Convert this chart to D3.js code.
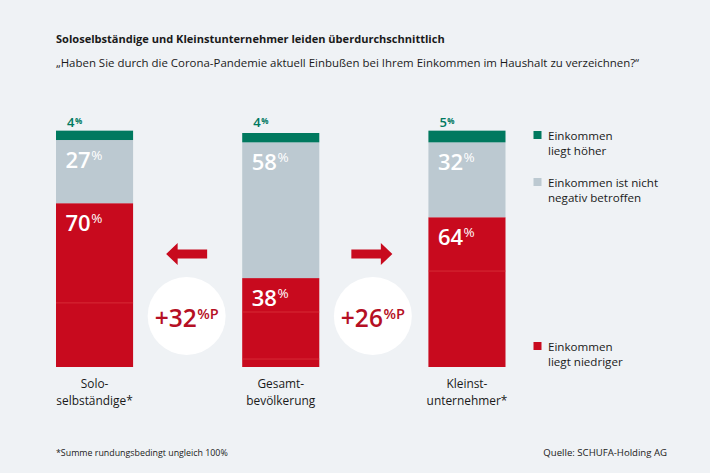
<!DOCTYPE html>
<html>
<head>
<meta charset="utf-8">
<script src="https://cdn.jsdelivr.net/npm/d3@7"></script>
<style>
html, body { margin: 0; padding: 0; background: #eff2f5; }
svg { display: block; }
text { font-family: "Open Sans", sans-serif; fill: #1a1a1a; }
</style>
</head>
<body>
<div id="chart"></div>
<script>
var categories = ["Solo", "Gesamt", "Kleinst"];
var categoryLabels = [
    ["Solo-", "selbständige*"],
    ["Gesamt-", "bevölkerung"],
    ["Kleinst-", "unternehmer*"]
];
var niedriger = [70, 38, 64];
var nichtBetroffen = [27, 58, 32];
var hoeher = [4, 4, 5];
// the thin lighter lines inside the red segments, in percent from the bottom
var dividers = [[27.4], [23.5, 3.4], [41]];
var deltas = ["+32", "+26"];
var legendLabels = [
    ["Einkommen", "liegt höher"],
    ["Einkommen ist nicht", "negativ betroffen"],
    ["Einkommen", "liegt niedriger"]
];

var green = "#00795f", grey = "#bcc9d1", red = "#c80a1e";
var width = 710, height = 473;

var svg = d3.select("#chart").append("svg")
    .attr("width", width)
    .attr("height", height);

svg.append("text").attr("x", 56).attr("y", 43)
    .attr("font-size", 11.05).attr("font-weight", 700)
    .text("Soloselbständige und Kleinstunternehmer leiden überdurchschnittlich");
svg.append("text").attr("x", 56).attr("y", 67)
    .attr("font-size", 11.45)
    .text("„Haben Sie durch die Corona-Pandemie aktuell Einbußen bei Ihrem Einkommen im Haushalt zu verzeichnen?“");

var x = d3.scaleBand().domain(categories).range([56, 505.5]).paddingInner(0.586).paddingOuter(0);
var y = d3.scaleLinear().domain([0, 100]).range([367, 133]);

var rows = categories.map(function(c, i) {
    return { cat: c, niedriger: niedriger[i], nicht: nichtBetroffen[i], hoeher: hoeher[i] };
});
var keys = ["niedriger", "nicht", "hoeher"];
var color = d3.scaleOrdinal().domain(keys).range([red, grey, green]);
var stacked = d3.stack().keys(keys)(rows);

svg.append("g").selectAll("g")
    .data(stacked)
    .join("g")
    .attr("fill", function(d) { return color(d.key); })
    .selectAll("rect")
    .data(function(d) { return d; })
    .join("rect")
    .attr("x", function(d) { return x(d.data.cat); })
    .attr("y", function(d) { return y(d[1]); })
    .attr("width", x.bandwidth())
    .attr("height", function(d) { return y(d[0]) - y(d[1]); });

// thin lines in the red part
categories.forEach(function(c, i) {
    dividers[i].forEach(function(v) {
        svg.append("line")
            .attr("x1", x(c)).attr("x2", x(c) + x.bandwidth())
            .attr("y1", y(v)).attr("y2", y(v))
            .attr("stroke", "#dc3a40").attr("stroke-width", 0.7);
    });
});

// number with a raised unit
function addValue(px, py, value, unit, size, unitSize, fill, rise, weight) {
    var t = svg.append("text").attr("x", px).attr("y", py).style("fill", fill);
    t.append("tspan").attr("font-size", size).attr("font-weight", 600).text(value);
    t.append("tspan").attr("font-size", unitSize).attr("font-weight", weight)
        .attr("dx", 0.5).attr("dy", -rise).text(unit);
    return t;
}

stacked.forEach(function(s) {
    s.forEach(function(d) {
        var px = x(d.data.cat);
        var v = d[1] - d[0];
        if (s.key === "hoeher") {
            addValue(px + 11, 127, v, "%", 13, 8, green, 3.5, 700);
        } else {
            addValue(px + 9.5, y(d[1]) + 28, v, "%", 22, 13.5, "#fff", 8, 400);
        }
    });
});

// category labels
categories.forEach(function(c, i) {
    var t = svg.append("text")
        .attr("text-anchor", "middle")
        .attr("font-size", 11.9);
    categoryLabels[i].forEach(function(line, j) {
        t.append("tspan")
            .attr("x", x(c) + x.bandwidth() / 2)
            .attr("y", 388 + j * 17)
            .text(line);
    });
});

// arrows and circles between the bars
var arrowShape = d3.path();
arrowShape.moveTo(-20.5, -4.5);
arrowShape.lineTo(9, -4.5);
arrowShape.lineTo(9, -11);
arrowShape.lineTo(20.5, 0);
arrowShape.lineTo(9, 11);
arrowShape.lineTo(9, 4.5);
arrowShape.lineTo(-20.5, 4.5);
arrowShape.closePath();

deltas.forEach(function(d, i) {
    var cx = (x(categories[i]) + x.bandwidth() + x(categories[i + 1])) / 2 - 1;
    svg.append("path")
        .attr("d", arrowShape.toString())
        .attr("fill", red)
        .attr("transform", "translate(" + (i === 0 ? cx : cx - 1) + ",254)" + (i === 0 ? " scale(-1,1)" : ""));
    svg.append("circle")
        .attr("cx", cx).attr("cy", 316).attr("r", 39)
        .attr("fill", "#fff");
    var t = addValue(cx, 327, d, "%P", 24.5, 14.5, "#b50f24", 8, 600);
    t.attr("text-anchor", "middle");
});

// legend
var legendY = [131, 178, 342];
[green, grey, red].forEach(function(col, i) {
    svg.append("rect")
        .attr("x", 533.5).attr("y", legendY[i])
        .attr("width", 8).attr("height", 8)
        .attr("fill", col);
    var t = svg.append("text").attr("font-size", 11.6);
    legendLabels[i].forEach(function(line, j) {
        t.append("tspan")
            .attr("x", 548).attr("y", legendY[i] + 9 + j * 15)
            .text(line);
    });
});

svg.append("text").attr("x", 56).attr("y", 456)
    .attr("font-size", 8.85)
    .text("*Summe rundungsbedingt ungleich 100%");
svg.append("text").attr("x", 667).attr("y", 456)
    .attr("font-size", 9.6).attr("text-anchor", "end")
    .text("Quelle: SCHUFA-Holding AG");
</script>
</body>
</html>
